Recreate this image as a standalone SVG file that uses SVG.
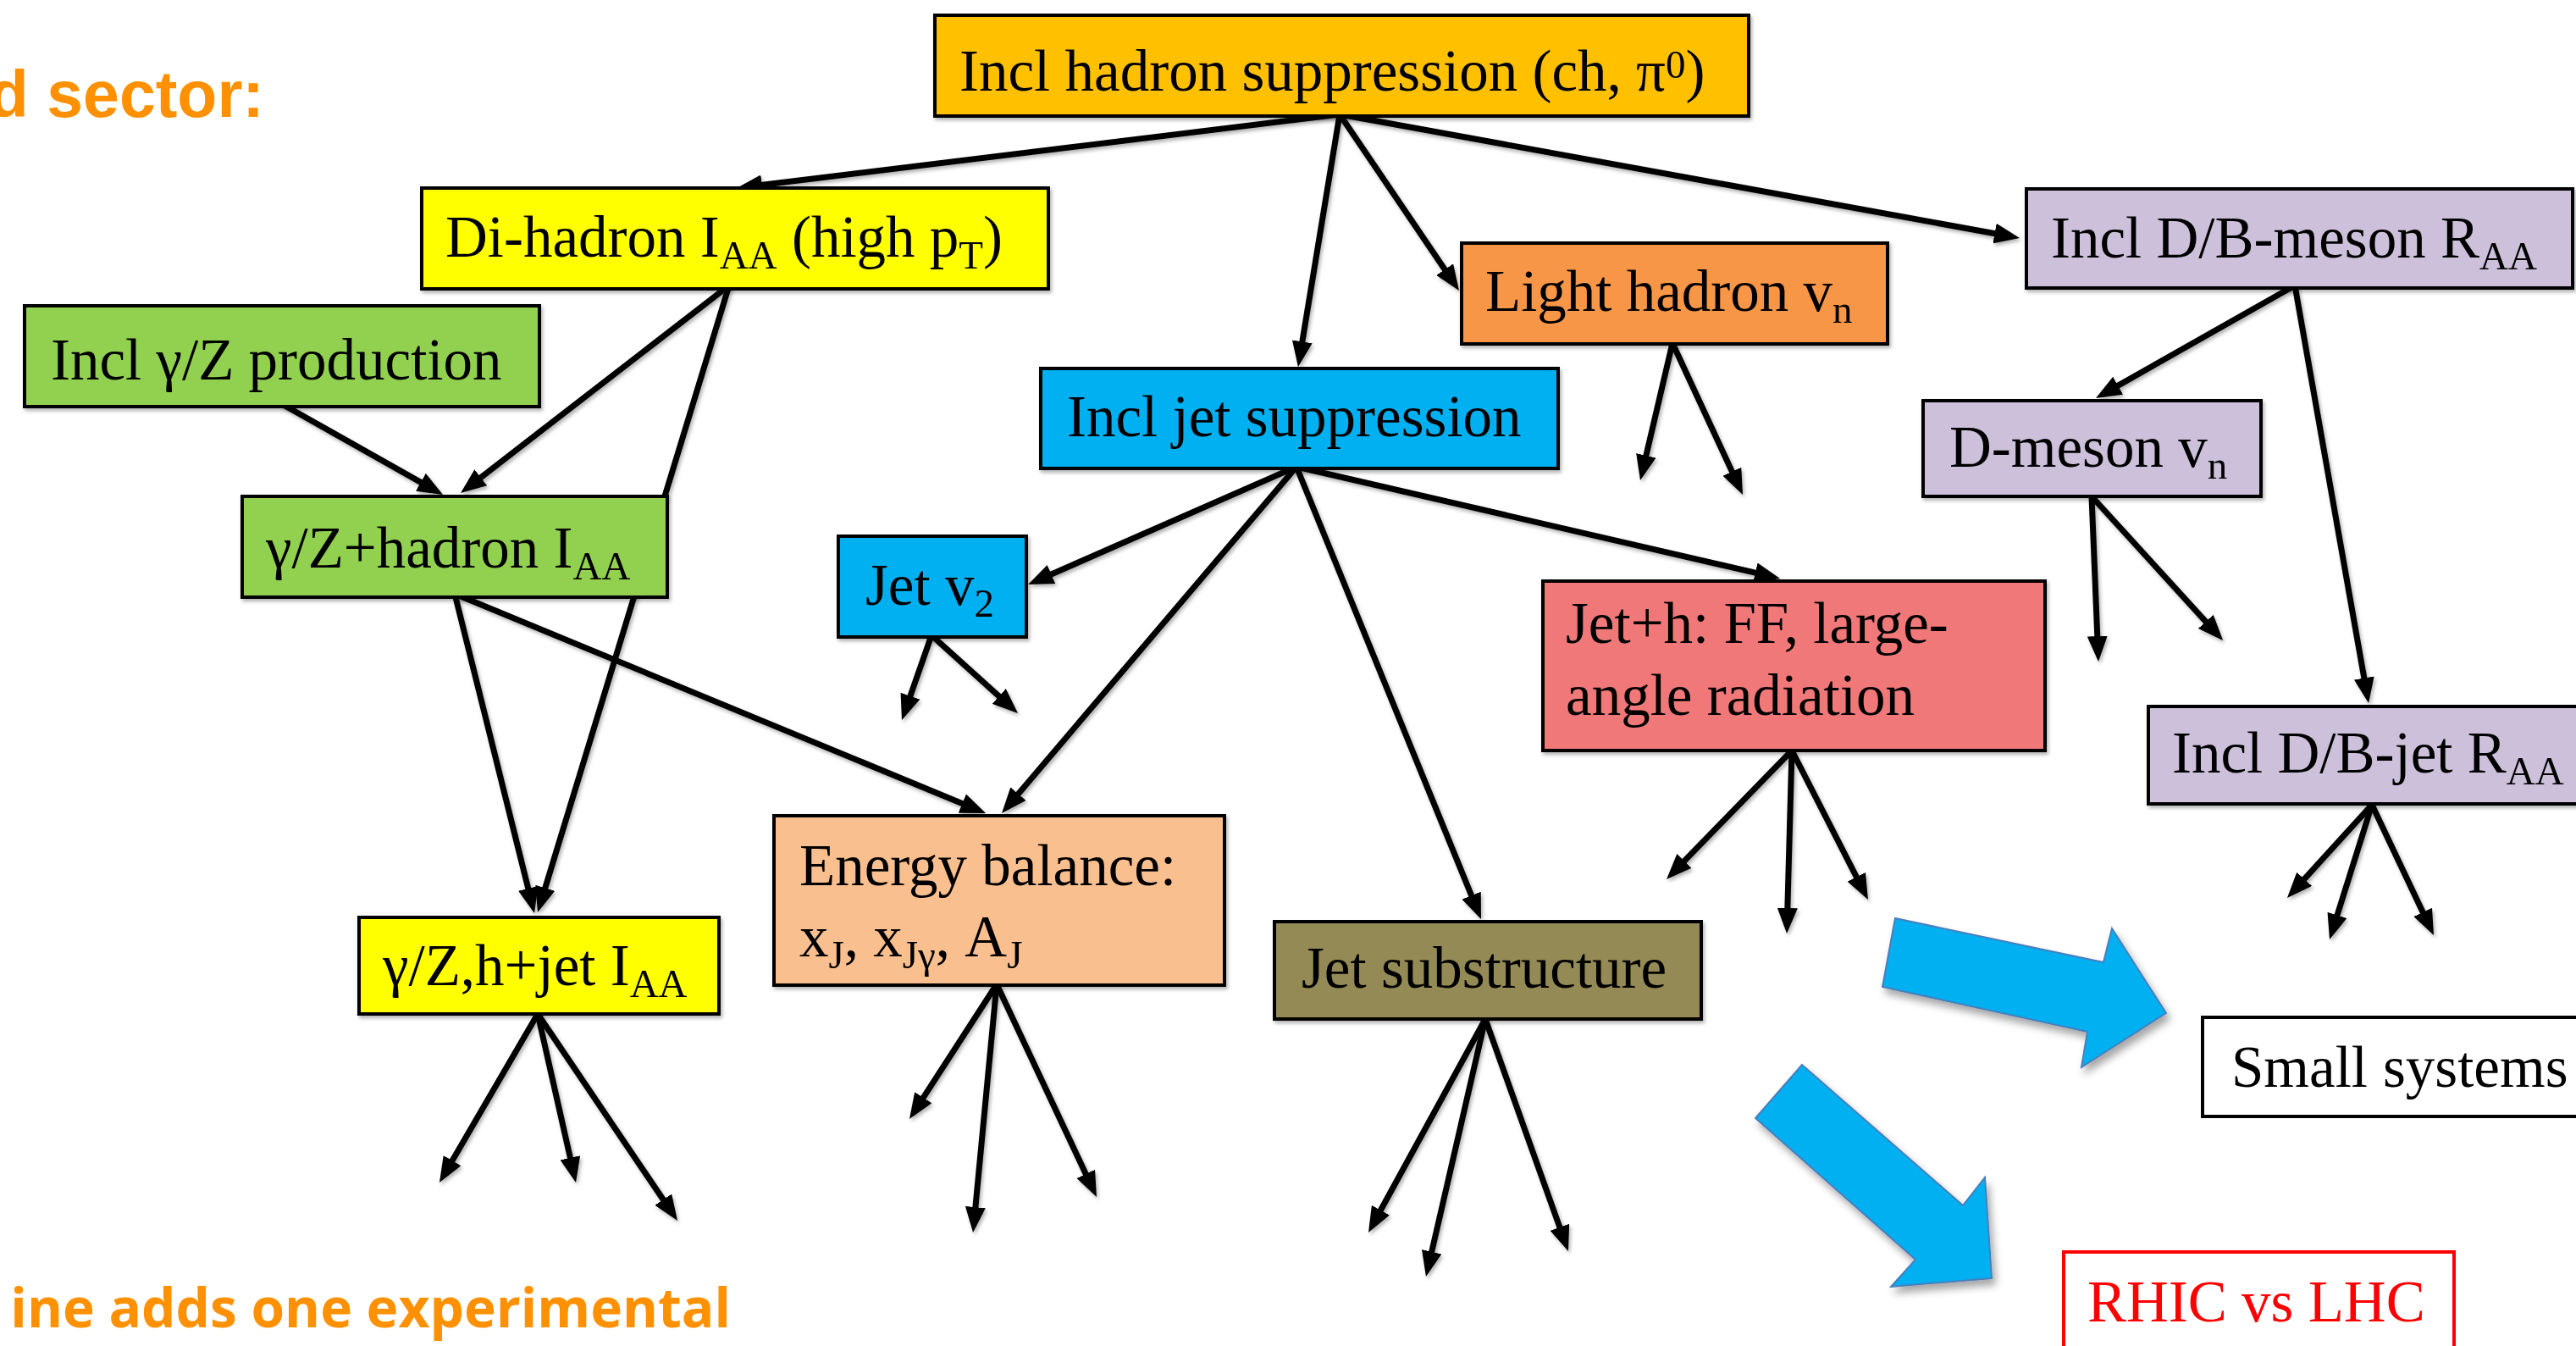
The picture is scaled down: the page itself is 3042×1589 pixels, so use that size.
<svg xmlns="http://www.w3.org/2000/svg" width="3042" height="1589" viewBox="0 0 3042 1589">
  <style>
    .box { stroke: #000; stroke-width: 4; }
    .t { font-family: "Liberation Serif", "Times New Roman", serif; font-size: 69px; fill: #000; }
    .s { font-size: 47px; }
    .sup { font-size: 47px; }
    .conn line { stroke: #000; stroke-width: 7; fill: none; marker-end: url(#head); }
    .big { fill: #00B0F0; stroke: #4A7EBB; stroke-width: 2; }
    .title { font-family: "Liberation Sans", Arial, sans-serif; font-weight: bold; fill: #FF9000; }
    .note { font-family: "Open Sans", "Liberation Sans", sans-serif; font-weight: bold; fill: #FF9000; }
  </style>
  <defs>
    <marker id="head" markerUnits="userSpaceOnUse" viewBox="0 0 30 24" markerWidth="30" markerHeight="24" refX="20" refY="12" orient="auto">
      <path d="M0,0 L30,12 L0,24 z" fill="#000"/>
    </marker>
    <filter id="soft" x="-10%" y="-10%" width="130%" height="140%">
      <feDropShadow dx="2" dy="3" stdDeviation="2" flood-color="#000" flood-opacity="0.3"/>
    </filter>
    <filter id="drop" x="-20%" y="-20%" width="150%" height="150%">
      <feDropShadow dx="4" dy="7" stdDeviation="5" flood-color="#000" flood-opacity="0.35"/>
    </filter>
  </defs>

  <rect width="3042" height="1589" fill="#fff"/>

  <!-- headings in the slide margin -->
  <text class="title" x="312" y="138" font-size="77" text-anchor="end">d sector:</text>
  <text class="note" x="863" y="1567" font-size="64" text-anchor="end">ine adds one experimental</text>

  <!-- arrows between measurements -->
  <g id="connectors" class="conn" filter="url(#soft)">
    <line x1="1582" y1="135" x2="879.9" y2="220.8"/>
    <line x1="1582" y1="135" x2="1534.6" y2="423.1"/>
    <line x1="1582" y1="135" x2="1717.4" y2="334.7"/>
    <line x1="1582" y1="135" x2="2375.2" y2="279.2"/>
    <line x1="333" y1="477" x2="514.3" y2="579.1"/>
    <line x1="861" y1="337" x2="551.9" y2="575.9"/>
    <line x1="861" y1="337" x2="637.9" y2="1067.4"/>
    <line x1="537" y1="701" x2="628.6" y2="1068.3"/>
    <line x1="537" y1="701" x2="1154.8" y2="956.2"/>
    <line x1="1531" y1="551" x2="1223.2" y2="686"/>
    <line x1="1531" y1="551" x2="1189.5" y2="952.4"/>
    <line x1="1531" y1="551" x2="1745.2" y2="1075.7"/>
    <line x1="1531" y1="551" x2="2092.3" y2="680.7"/>
    <line x1="1975" y1="405" x2="1939.3" y2="557.3"/>
    <line x1="1975" y1="405" x2="2053.8" y2="574.9"/>
    <line x1="2710" y1="337" x2="2483.7" y2="465.1"/>
    <line x1="2710" y1="337" x2="2795.3" y2="820.2"/>
    <line x1="2470" y1="586" x2="2477.6" y2="771"/>
    <line x1="2470" y1="586" x2="2618.3" y2="748.6"/>
    <line x1="1100" y1="750" x2="1068.3" y2="840.6"/>
    <line x1="1100" y1="750" x2="1194.6" y2="835.3"/>
    <line x1="2116" y1="886" x2="1975" y2="1030.8"/>
    <line x1="2116" y1="886" x2="2110.3" y2="1092"/>
    <line x1="2116" y1="886" x2="2201.4" y2="1053.1"/>
    <line x1="2801" y1="950" x2="2707.7" y2="1052.6"/>
    <line x1="2801" y1="950" x2="2754" y2="1099.5"/>
    <line x1="2801" y1="950" x2="2869.7" y2="1095"/>
    <line x1="1177" y1="1162" x2="1079.4" y2="1312.6"/>
    <line x1="1177" y1="1162" x2="1150" y2="1445"/>
    <line x1="1177" y1="1162" x2="1290.7" y2="1404"/>
    <line x1="1754" y1="1203" x2="1620.8" y2="1446.2"/>
    <line x1="1754" y1="1203" x2="1686.2" y2="1497.3"/>
    <line x1="1754" y1="1203" x2="1848.6" y2="1467.6"/>
    <line x1="635" y1="1197" x2="524" y2="1387.4"/>
    <line x1="635" y1="1197" x2="677.8" y2="1386.3"/>
    <line x1="635" y1="1197" x2="794.4" y2="1432.7"/>
  </g>

  <!-- block arrows -->
  <g id="block-arrows" filter="url(#drop)">
    <polygon class="big" points="2238,1084 2484,1136 2494,1096 2558,1196 2458,1260 2465,1218 2223,1165"/>
    <polygon class="big" points="2128,1257 2318,1423 2344,1390 2352,1509 2233,1519 2262,1487 2073,1320"/>
  </g>

  <g id="incl-hadron" filter="url(#soft)">
    <rect class="box" x="1104" y="18" width="961" height="119" fill="#FFC000"/>
    <text class="t" x="1133" y="107">Incl hadron suppression (ch, π<tspan class="sup" dy="-15">0</tspan><tspan dy="15">)</tspan></text>
  </g>

  <g id="dihadron" filter="url(#soft)">
    <rect class="box" x="498" y="222" width="740" height="119" fill="#FFFF00"/>
    <text class="t" x="526" y="303">Di-hadron I<tspan class="s" dy="14">AA</tspan><tspan dy="-14"> (high p</tspan><tspan class="s" dy="14">T</tspan><tspan dy="-14">)</tspan></text>
  </g>

  <g id="incl-gz" filter="url(#soft)">
    <rect class="box" x="29" y="361" width="608" height="119" fill="#92D050"/>
    <text class="t" x="60" y="448">Incl γ/Z production</text>
  </g>

  <g id="light-hadron" filter="url(#soft)">
    <rect class="box" x="1726" y="287" width="503" height="119" fill="#F79646"/>
    <text class="t" x="1754" y="367">Light hadron v<tspan class="s" dy="14">n</tspan></text>
  </g>

  <g id="db-meson" filter="url(#soft)">
    <rect class="box" x="2393" y="223" width="645" height="117" fill="#CCC0DA"/>
    <text class="t" x="2422" y="304">Incl D/B-meson R<tspan class="s" dy="14">AA</tspan></text>
  </g>

  <g id="incl-jet" filter="url(#soft)">
    <rect class="box" x="1229" y="435" width="611" height="118" fill="#00B0F0"/>
    <text class="t" x="1260" y="515">Incl jet suppression</text>
  </g>

  <g id="gz-hadron" filter="url(#soft)">
    <rect class="box" x="286" y="586" width="502" height="119" fill="#92D050"/>
    <text class="t" x="314" y="670">γ/Z+hadron I<tspan class="s" dy="14">AA</tspan></text>
  </g>

  <g id="d-meson" filter="url(#soft)">
    <rect class="box" x="2271" y="473" width="399" height="113" fill="#CCC0DA"/>
    <text class="t" x="2302" y="551">D-meson v<tspan class="s" dy="14">n</tspan></text>
  </g>

  <g id="jet-v2" filter="url(#soft)">
    <rect class="box" x="990" y="633" width="222" height="119" fill="#00B0F0"/>
    <text class="t" x="1022" y="714">Jet v<tspan class="s" dy="14">2</tspan></text>
  </g>

  <g id="jet-h" filter="url(#soft)">
    <rect class="box" x="1822" y="686" width="593" height="200" fill="#F07878"/>
    <text class="t" x="1849" y="759">Jet+h: FF, large-</text>
    <text class="t" x="1849" y="844">angle radiation</text>
  </g>

  <g id="energy-balance" filter="url(#soft)">
    <rect class="box" x="914" y="963" width="532" height="200" fill="#FABF8F"/>
    <text class="t" x="944" y="1045">Energy balance:</text>
    <text class="t" x="944" y="1129">x<tspan class="s" dy="14">J</tspan><tspan dy="-14">, x</tspan><tspan class="s" dy="14">Jγ</tspan><tspan dy="-14">, A</tspan><tspan class="s" dy="14">J</tspan></text>
  </g>

  <g id="jet-substructure" filter="url(#soft)">
    <rect class="box" x="1505" y="1088" width="504" height="115" fill="#948A54"/>
    <text class="t" x="1537" y="1166">Jet substructure</text>
  </g>

  <g id="db-jet" filter="url(#soft)">
    <rect class="box" x="2537" y="834" width="520" height="115" fill="#CCC0DA"/>
    <text class="t" x="2565" y="912">Incl D/B-jet R<tspan class="s" dy="14">AA</tspan></text>
  </g>

  <g id="gz-h-jet" filter="url(#soft)">
    <rect class="box" x="424" y="1083" width="425" height="114" fill="#FFFF00"/>
    <text class="t" x="452" y="1163">γ/Z,h+jet I<tspan class="s" dy="14">AA</tspan></text>
  </g>

  <g id="small-systems">
    <rect class="box" x="2601" y="1201" width="460" height="117" fill="#fff"/>
    <text class="t" x="2635" y="1283">Small<tspan x="2814">systems</tspan></text>
  </g>

  <g id="rhic-lhc">
    <rect x="2437" y="1478" width="461" height="130" fill="#fff" stroke="#FF0000" stroke-width="4"/>
    <text class="t" x="2465" y="1560" style="fill:#FF0000">RHIC vs LHC</text>
  </g>
</svg>
